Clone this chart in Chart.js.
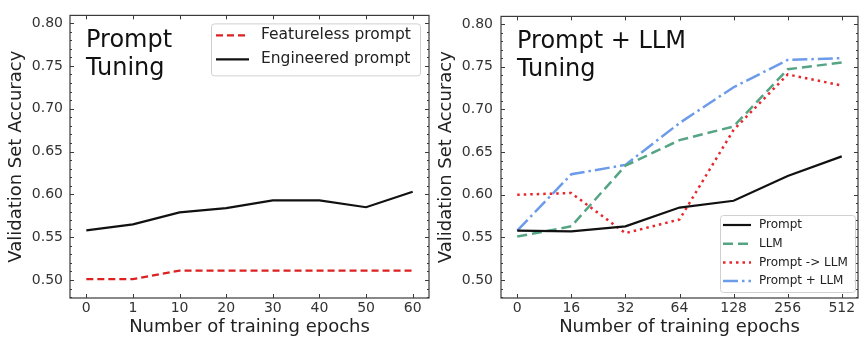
<!DOCTYPE html>
<html>
<head>
<meta charset="utf-8">
<script src="https://cdn.jsdelivr.net/npm/chart.js@4"></script>
<style>
  html, body { margin: 0; padding: 0; background: #fff; }
  #wrap { position: relative; width: 859px; height: 338px; }
  canvas { position: absolute; top: 0; }
</style>
</head>
<body>
<div id="wrap">
  <canvas id="left" width="430" height="338" style="left:0"></canvas>
  <canvas id="right" width="429" height="338" style="left:430px"></canvas>
</div>
<script>
// prompt tuning panel
const leftEpochs = ['0', '1', '10', '20', '30', '40', '50', '60'];
const featureless = [0.501, 0.501, 0.511, 0.511, 0.511, 0.511, 0.511, 0.511];
const engineered = [0.558, 0.565, 0.579, 0.584, 0.593, 0.593, 0.585, 0.603];

// prompt + LLM tuning panel
const rightEpochs = ['0', '16', '32', '64', '128', '256', '512'];
const promptOnly = [0.558, 0.557, 0.563, 0.585, 0.593, 0.622, 0.645];
const llmOnly = [0.551, 0.563, 0.634, 0.664, 0.680, 0.747, 0.755];
const promptThenLlm = [0.600, 0.602, 0.555, 0.571, 0.676, 0.741, 0.728];
const promptPlusLlm = [0.558, 0.624, 0.635, 0.684, 0.726, 0.758, 0.760];

const yTicks = [0.50, 0.55, 0.60, 0.65, 0.70, 0.75, 0.80];
const yMinor = [];
for (let i = 48; i <= 80; i++) yMinor.push(i / 100);

Chart.defaults.font.family = "'DejaVu Sans', sans-serif";
Chart.defaults.color = '#333';

const FRAME = '#3a3a3a';

function points(values) {
    return values.map((y, i) => ({ x: i, y: y }));
}

// box, inward ticks, panel title and legend
const panelPlugin = {
    id: 'panel',
    afterDraw(chart, args, opts) {
        const ctx = chart.ctx;
        const a = chart.chartArea;
        const xs = chart.scales.x, ys = chart.scales.y;
        ctx.save();
        ctx.strokeStyle = FRAME;
        ctx.lineWidth = 1.2;
        ctx.setLineDash([]);
        ctx.strokeRect(a.left, a.top, a.right - a.left, a.bottom - a.top);

        ctx.lineWidth = 1;
        ctx.beginPath();
        xs.ticks.forEach(t => {
            const px = Math.round(xs.getPixelForValue(t.value)) + 0.5;
            ctx.moveTo(px, a.bottom); ctx.lineTo(px, a.bottom - 4);
            ctx.moveTo(px, a.top); ctx.lineTo(px, a.top + 4);
        });
        yTicks.forEach(v => {
            const py = Math.round(ys.getPixelForValue(v)) + 0.5;
            ctx.moveTo(a.left, py); ctx.lineTo(a.left + 4, py);
            ctx.moveTo(a.right, py); ctx.lineTo(a.right - 4, py);
        });
        yMinor.forEach(v => {
            const py = Math.round(ys.getPixelForValue(v)) + 0.5;
            ctx.moveTo(a.left, py); ctx.lineTo(a.left + 2, py);
            ctx.moveTo(a.right, py); ctx.lineTo(a.right - 2, py);
        });
        ctx.stroke();

        // title inside the axes
        ctx.fillStyle = '#111';
        ctx.font = "24px 'DejaVu Sans'";
        ctx.textBaseline = 'alphabetic';
        ctx.textAlign = 'left';
        opts.title.forEach((line, i) => {
            ctx.fillText(line, a.left + 16, a.top + 32 + i * 27.5);
        });

        // legend
        const L = opts.legend;
        const bx = a.right - L.right - L.width;
        const by = L.top != null ? a.top + L.top : a.bottom - L.bottom - L.height;
        ctx.beginPath();
        ctx.roundRect(bx + 0.5, by + 0.5, L.width, L.height, 3);
        ctx.fillStyle = 'rgba(255,255,255,0.8)';
        ctx.fill();
        ctx.strokeStyle = '#d0d0d0';
        ctx.lineWidth = 1;
        ctx.stroke();
        ctx.font = L.font + "px 'DejaVu Sans'";
        ctx.textBaseline = 'middle';
        chart.data.datasets.forEach((ds, i) => {
            const cy = by + L.first + i * L.step;
            ctx.beginPath();
            ctx.strokeStyle = ds.borderColor;
            ctx.lineWidth = ds.borderWidth;
            ctx.setLineDash(ds.borderDash || []);
            ctx.moveTo(bx + L.handleX, cy);
            ctx.lineTo(bx + L.handleX + L.handleLen, cy);
            ctx.stroke();
            ctx.setLineDash([]);
            ctx.fillStyle = '#222';
            ctx.fillText(ds.label, bx + L.textX, cy);
        });
        ctx.restore();
    }
};

function makeChart(id, labels, datasets, panel, yLeft, tickPad) {
    // 5% margin on each side of the category positions
    const margin = 0.05 * (labels.length - 1);
    return new Chart(document.getElementById(id), {
        type: 'line',
        data: { datasets: datasets },
        options: {
            responsive: false,
            animation: false,
            devicePixelRatio: 1,
            layout: { padding: { top: 13, right: 1, left: 0, bottom: 0 } },
            elements: { point: { radius: 0 }, line: { tension: 0 } },
            plugins: { legend: { display: false }, tooltip: { enabled: false }, panel: panel },
            scales: {
                x: {
                    type: 'linear',
                    min: -margin,
                    max: labels.length - 1 + margin,
                    afterBuildTicks: s => { s.ticks = labels.map((_, i) => ({ value: i })); },
                    afterFit: s => { s.height = 40; },
                    grid: { display: false, drawTicks: false },
                    border: { display: false },
                    ticks: {
                        padding: 2,
                        autoSkip: false,
                        maxRotation: 0,
                        font: { size: 14 },
                        color: '#333',
                        callback: v => labels[v]
                    },
                    title: {
                        display: true,
                        text: 'Number of training epochs',
                        font: { size: 18 },
                        color: '#222',
                        padding: { top: 0, bottom: 0 }
                    }
                },
                y: {
                    min: 0.479,
                    max: 0.809,
                    afterBuildTicks: s => { s.ticks = yTicks.map(v => ({ value: v })); },
                    afterFit: s => { s.width = yLeft; },
                    grid: { display: false, drawTicks: false },
                    border: { display: false },
                    ticks: {
                        padding: tickPad,
                        font: { size: 14 },
                        color: '#333',
                        callback: v => v.toFixed(2)
                    },
                    title: {
                        display: true,
                        text: 'Validation Set Accuracy',
                        font: { size: 18 },
                        color: '#222',
                        padding: { top: 6, bottom: 0 }
                    }
                }
            }
        },
        plugins: [panelPlugin]
    });
}

makeChart('left', leftEpochs, [
    { label: 'Featureless prompt', data: points(featureless), borderColor: '#dd2020', borderWidth: 2.2, borderDash: [7, 4] },
    { label: 'Engineered prompt', data: points(engineered), borderColor: '#111', borderWidth: 2.2 }
], {
    title: ['Prompt', 'Tuning'],
    legend: { right: 9, top: 8, width: 209, height: 52, first: 12, step: 24, font: 15.5, handleX: 5, handleLen: 33, textX: 50 }
}, 70, 7);

makeChart('right', rightEpochs, [
    { label: 'Prompt', data: points(promptOnly), borderColor: '#111', borderWidth: 2.2 },
    { label: 'LLM', data: points(llmOnly), borderColor: '#55a585', borderWidth: 2.5, borderDash: [10, 5] },
    { label: 'Prompt -> LLM', data: points(promptThenLlm), borderColor: '#e8262b', borderWidth: 2.5, borderDash: [2.5, 4] },
    { label: 'Prompt + LLM', data: points(promptPlusLlm), borderColor: '#6c9bea', borderWidth: 2.5, borderDash: [15, 4, 2.5, 4] }
], {
    title: ['Prompt + LLM', 'Tuning'],
    legend: { right: 3, bottom: 6, width: 135, height: 77, first: 10, step: 18.7, font: 12, handleX: 3, handleLen: 28, textX: 39 }
}, 71, 8);
</script>
</body>
</html>
